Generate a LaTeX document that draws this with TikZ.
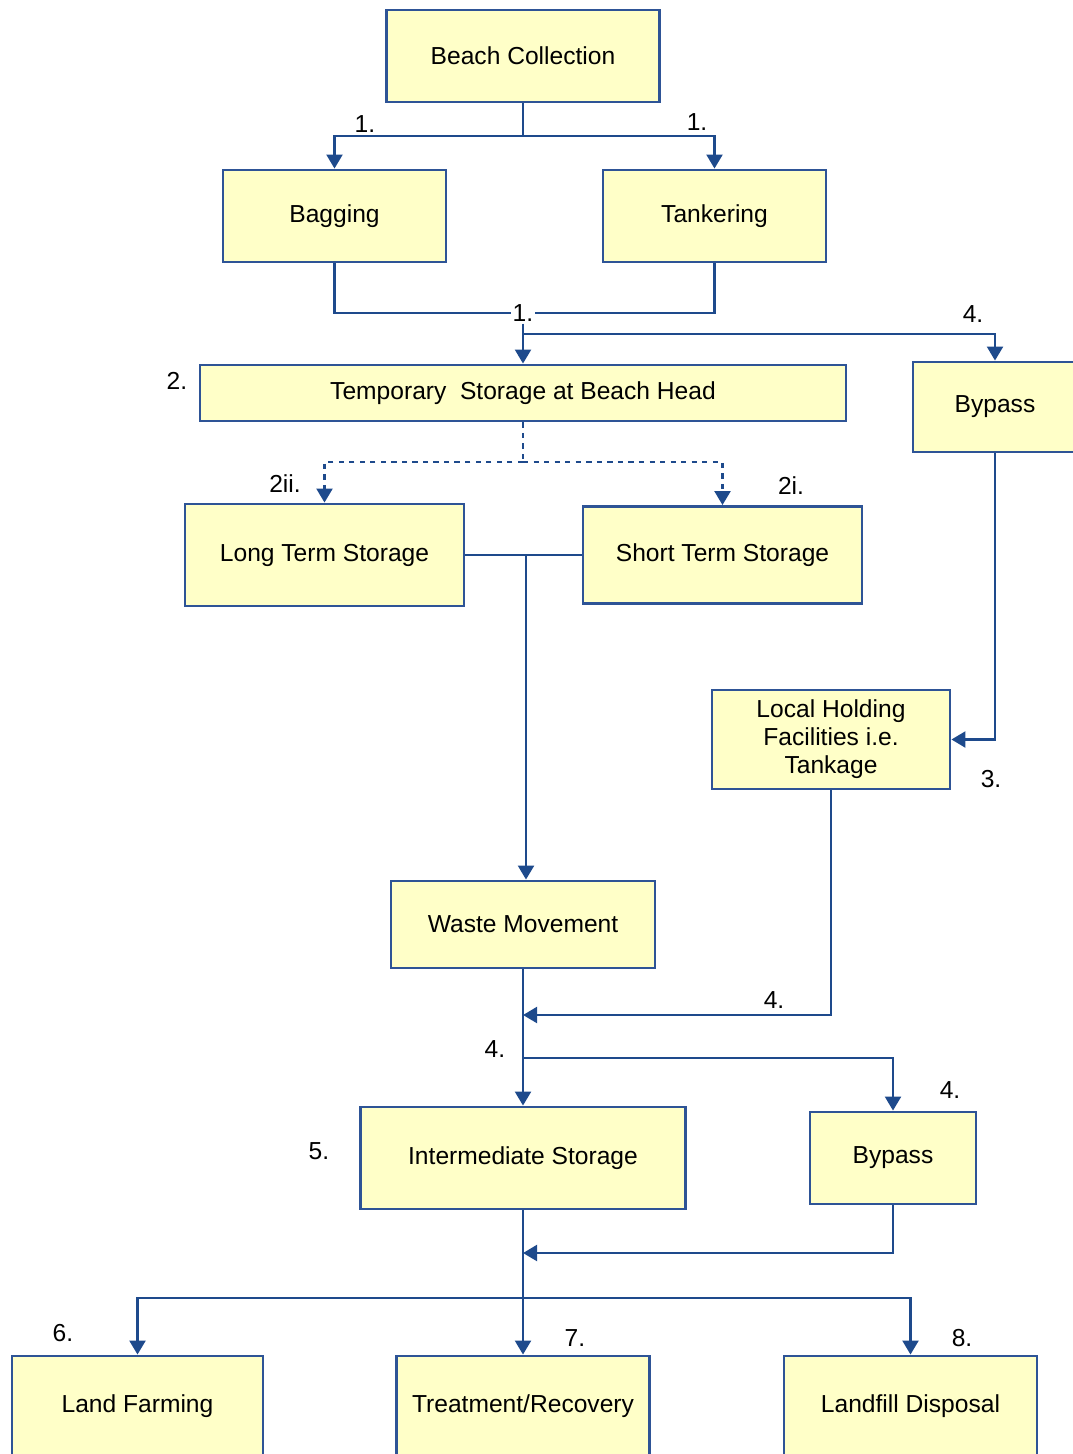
\documentclass[tikz,border=0pt]{standalone}
\usepackage{fontspec}
\setmainfont{Liberation Sans}
\usetikzlibrary{arrows.meta}
\definecolor{boxfill}{RGB}{255,255,200}
\definecolor{boxline}{RGB}{46,84,150}
\definecolor{flowline}{RGB}{30,74,140}
\tikzset{
	stage/.style={draw=boxline, fill=boxfill, line width=1.6pt, inner sep=2pt, align=center, font=\fontsize{14}{16}\selectfont},
	flow/.style={draw=flowline, line width=1.6pt, -{Triangle[width=9pt,length=8pt]}},
	link/.style={draw=flowline, line width=1.6pt},
	num/.style={inner sep=1pt, font=\fontsize{14}{16}\selectfont}
}

\begin{document}
\begin{tikzpicture}[x=0.02cm, y=-0.02cm]
			%%%%% START %%%%%
			\useasboundingbox (0, 0) rectangle (1072, 1454);
			
			\node[stage, minimum width=5.46cm, minimum height=1.84cm] (bc) at (523, 56) {Beach Collection};
			\node[stage, minimum width=4.46cm, minimum height=1.84cm] (bag) at (334.5, 216) {Bagging};
			\node[stage, minimum width=4.46cm, minimum height=1.84cm] (tank) at (714.5, 216) {Tankering};
			
			\coordinate (bcsplit) at (523, 136);
			\draw[link] (bc.south) -- (bcsplit);
			\draw[flow] (bcsplit) -| (bag.north);
			\draw[flow] (bcsplit) -| (tank.north);
			\node[num] (lbag) at (365, 124) {1.};
			\node[num] (ltank) at (697, 122) {1.};
			
			\node[stage, minimum width=12.92cm, minimum height=1.12cm] (temp) at (523, 393) {Temporary\ \ Storage at Beach Head};
			\node[stage, minimum width=3.28cm, minimum height=1.8cm] (bypassA) at (995, 407) {Bypass};
			
			\node[num] (ljoin) at (523, 313) {1.};
			\draw[link] (bag.south) |- (ljoin.west);
			\draw[link] (tank.south) |- (ljoin.east);
			\coordinate (tempsplit) at (523, 334);
			\draw[flow] (ljoin.south) -- (ljoin.south |- temp.north);
			\draw[flow] (tempsplit) -| (bypassA.north);
			\node[num] (ltemp) at (177, 381) {2.};
			\node[num] (lbypassA) at (973, 314) {4.};
			
			\node[stage, minimum width=5.58cm, minimum height=2.04cm] (lts) at (324.5, 555) {Long Term Storage};
			\node[stage, minimum width=5.58cm, minimum height=1.94cm] (sts) at (722.5, 555) {Short Term Storage};
			
			\coordinate (storesplit) at (523, 462);
			\draw[link, dashed] (temp.south) -- (storesplit);
			\draw[flow, dashed] (storesplit) -| (lts.north);
			\draw[flow, dashed] (storesplit) -| (sts.north);
			\node[num] (llts) at (285, 484) {2ii.};
			\node[num] (lsts) at (791, 486) {2i.};
			
			\node[stage, minimum width=4.76cm, minimum height=1.98cm] (lhf) at (831, 739.5) {Local Holding\\Facilities i.e.\\Tankage};
			\node[stage, minimum width=5.28cm, minimum height=1.74cm] (waste) at (523, 924.5) {Waste Movement};
			
			\coordinate (storejoin) at (526, 555);
			\draw[link] (lts.east) -- (sts.west);
			\draw[flow] (storejoin) -- (storejoin |- waste.north);
			\draw[flow] (bypassA.south) |- (lhf.east);
			\node[num] (llhf) at (991, 779) {3.};
			
			\node[stage, minimum width=6.5cm, minimum height=2.04cm] (inter) at (523, 1158) {Intermediate Storage};
			\node[stage, minimum width=3.32cm, minimum height=1.84cm] (bypassB) at (893, 1158) {Bypass};
			
			\coordinate (lhfjoin) at (523, 1015);
			\draw[flow] (lhf.south) |- (lhfjoin);
			\node[num] (llhfjoin) at (774, 1000) {4.};
			\coordinate (intersplit) at (523, 1058);
			\draw[flow] (waste.south) -- (inter.north);
			\draw[flow] (intersplit) -| (bypassB.north);
			\node[num] (linter) at (495, 1049) {4.};
			\node[num] (lbypassB) at (950, 1090) {4.};
			\node[num] (lstore) at (319, 1151) {5.};
			
			\node[stage, minimum width=5.02cm, minimum height=2cm] (land) at (137.5, 1406) {Land Farming};
			\node[stage, minimum width=5.06cm, minimum height=2cm] (treat) at (523, 1406) {Treatment/Recovery};
			\node[stage, minimum width=5.06cm, minimum height=2cm] (landfill) at (910.5, 1406) {Landfill Disposal};
			
			\coordinate (bypassjoin) at (523, 1253);
			\draw[flow] (bypassB.south) |- (bypassjoin);
			\coordinate (finalsplit) at (523, 1298);
			\draw[flow] (inter.south) -- (treat.north);
			\draw[flow] (finalsplit) -| (land.north);
			\draw[flow] (finalsplit) -| (landfill.north);
			\node[num] (lland) at (63, 1333) {6.};
			\node[num] (ltreat) at (575, 1338) {7.};
			\node[num] (llandfill) at (962, 1338) {8.};
			
			%%%%% END %%%%%
\end{tikzpicture}
\end{document}
